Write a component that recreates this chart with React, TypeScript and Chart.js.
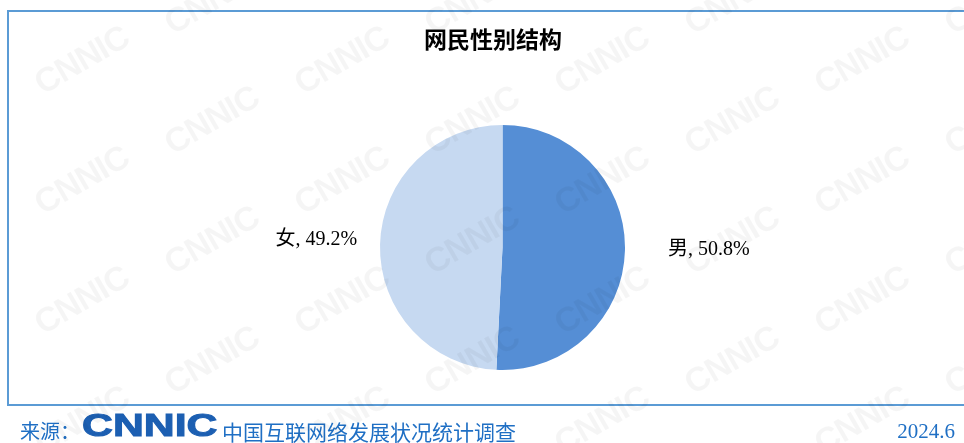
import React, { useEffect, useRef } from "react";
import { Chart, registerables } from "chart.js";

Chart.register(...registerables);

const categories = ["男", "女"];
const values = [50.8, 49.2];
const sliceColors = ["#558ed5", "#c6d9f1"];
const chartTitle = "网民性别结构";
const sourceLabel = "来源：";
const sourceLogo = "CNNIC";
const sourceOrg = "中国互联网络发展状况统计调查";
const issueDate = "2024.6";

const labelGap = [43, 23];
const labelDy = [-1, -5];

const sideLabels = {
  id: "sideLabels",
  afterDatasetsDraw(chart: any) {
    const ctx = chart.ctx;
    const meta = chart.getDatasetMeta(0);
    ctx.save();
    ctx.font = "20px 'Liberation Serif', 'Noto Sans CJK SC', serif";
    ctx.fillStyle = "#000000";
    ctx.textBaseline = "middle";
    meta.data.forEach((arc: any, i: number) => {
      const p = arc.getProps(["x", "y", "startAngle", "endAngle", "outerRadius"], true);
      const mid = (p.startAngle + p.endAngle) / 2;
      const right = Math.cos(mid) >= 0;
      const tx = p.x + Math.cos(mid) * p.outerRadius + (right ? labelGap[i] : -labelGap[i]);
      const ty = p.y + Math.sin(mid) * p.outerRadius + labelDy[i];
      ctx.textAlign = right ? "left" : "right";
      ctx.fillText(`${categories[i]}, ${values[i]}%`, tx, ty);
    });
    ctx.restore();
  },
};

function Watermarks() {
  const marks: any[] = [];
  let row = 0;
  for (let y = -20; y < 470; y += 60) {
    for (let x = -100; x < 1000; x += 260) {
      const xx = x + (row % 2 ? 130 : 0);
      marks.push(
        <div
          key={`${xx}-${y}`}
          style={{
            position: "absolute",
            left: xx,
            top: y,
            transform: "rotate(-30deg)",
            font: "900 34px 'Liberation Sans', Arial, sans-serif",
            color: "rgba(0,0,0,0.04)",
            whiteSpace: "nowrap",
            letterSpacing: "-1px",
          }}
        >
          CNNIC
        </div>
      );
    }
    row++;
  }
  return (
    <div style={{ position: "absolute", inset: 0, pointerEvents: "none", overflow: "hidden" }}>
      {marks}
    </div>
  );
}

export default function App() {
  const canvasRef = useRef<HTMLCanvasElement | null>(null);

  useEffect(() => {
    if (!canvasRef.current) return;
    const chart = new Chart(canvasRef.current, {
      type: "pie",
      data: {
        labels: categories,
        datasets: [
          {
            data: values,
            backgroundColor: sliceColors,
            borderWidth: 0,
          },
        ],
      },
      options: {
        responsive: false,
        maintainAspectRatio: false,
        animation: false,
        layout: { padding: { top: 125, bottom: 73, left: 380, right: 339 } },
        plugins: {
          legend: { display: false },
          tooltip: { enabled: false },
          title: { display: false },
        },
      },
      plugins: [sideLabels],
    });
    return () => chart.destroy();
  }, []);

  const blue = "#1f6fc4";

  return (
    <div
      style={{
        position: "absolute",
        left: 0,
        top: 0,
        width: 964,
        height: 443,
        overflow: "hidden",
        background: "#ffffff",
      }}
    >
      <div
        style={{
          position: "absolute",
          left: 7,
          top: 10,
          width: 980,
          height: 392,
          border: "2px solid #5b9bd5",
          boxSizing: "content-box",
        }}
      />
      <canvas
        ref={canvasRef}
        width={964}
        height={443}
        style={{ position: "absolute", left: 0, top: 0, width: 964, height: 443 }}
      />
      <div
        style={{
          position: "absolute",
          left: 424,
          top: 26,
          font: "bold 23px 'Noto Sans CJK SC', sans-serif",
          lineHeight: "24px",
          color: "#000",
          whiteSpace: "nowrap",
        }}
      >
        {chartTitle}
      </div>
      <div
        style={{
          position: "absolute",
          left: 20,
          top: 419,
          font: "20px 'Noto Sans CJK SC', sans-serif",
          lineHeight: "24px",
          color: blue,
          whiteSpace: "nowrap",
        }}
      >
        {sourceLabel}
      </div>
      <div
        style={{
          position: "absolute",
          left: 82,
          top: 410,
          font: "900 31px 'Liberation Sans', Arial, sans-serif",
          lineHeight: "31px",
          color: "#1c5fb2",
          transform: "scaleX(1.38)",
          transformOrigin: "left center",
          whiteSpace: "nowrap",
          WebkitTextStroke: "1px #1c5fb2",
        }}
      >
        {sourceLogo}
      </div>
      <div
        style={{
          position: "absolute",
          left: 222,
          top: 419,
          font: "21px 'Noto Sans CJK SC', sans-serif",
          lineHeight: "24px",
          color: blue,
          whiteSpace: "nowrap",
        }}
      >
        {sourceOrg}
      </div>
      <div
        style={{
          position: "absolute",
          right: 9,
          top: 419,
          font: "21px 'Liberation Serif', serif",
          lineHeight: "24px",
          color: blue,
          whiteSpace: "nowrap",
        }}
      >
        {issueDate}
      </div>
      <Watermarks />
    </div>
  );
}
